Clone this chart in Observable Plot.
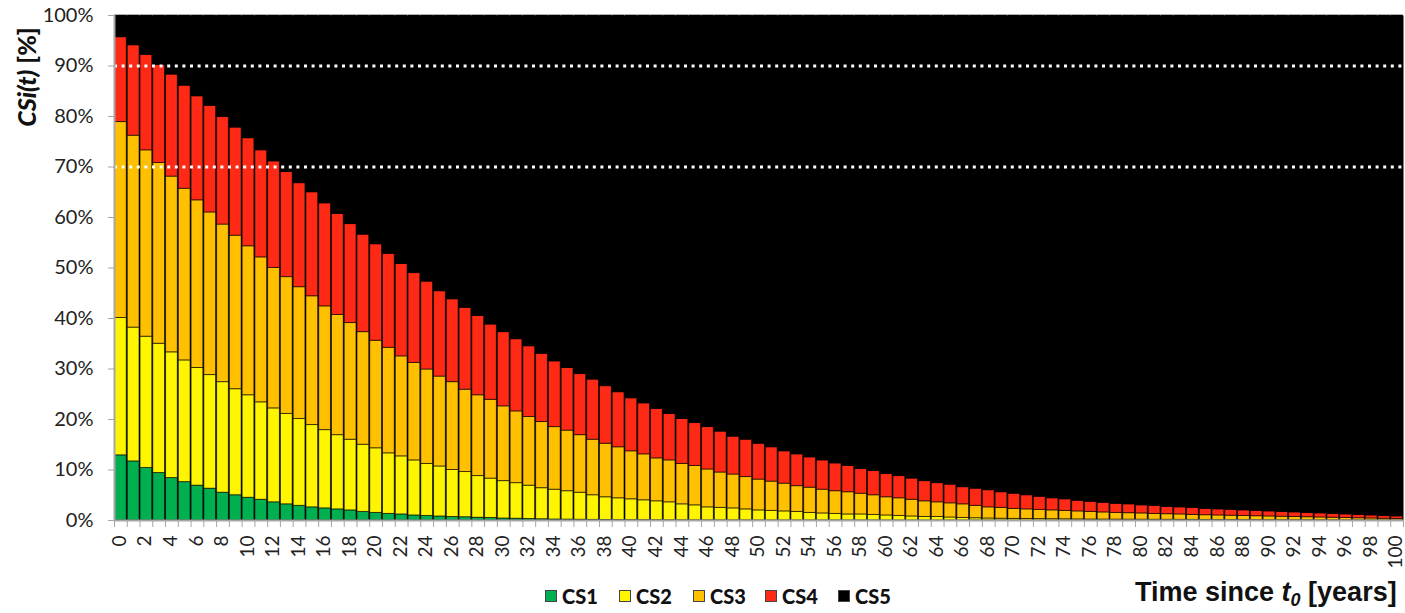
<!DOCTYPE html>
<html>
<head>
<meta charset="utf-8">
<script src="https://cdn.jsdelivr.net/npm/d3@7"></script>
<script src="https://cdn.jsdelivr.net/npm/@observablehq/plot@0.6"></script>
<style>
  html, body { margin: 0; padding: 0; background: #fff; }
  #wrap { position: relative; width: 1405px; height: 613px; overflow: hidden; }
  #chart svg { display: block; }
  .leg { position: absolute; top: 584px; display: flex; align-items: center;
         font-family: Lato, "Liberation Sans", sans-serif; font-weight: 900; font-size: 20px; color: #111; }
  .sw { width: 10px; height: 10px; border: 1.5px solid #444; margin-right: 5px; }
  #xtitle { position: absolute; left: 1135px; top: 577px; font-family: "Liberation Sans", Arial, sans-serif;
            font-weight: bold; font-size: 27px; color: #111; white-space: nowrap; }
  #xtitle sub { font-size: 18px; vertical-align: -5px; line-height: 0; }
</style>
</head>
<body>
<div id="wrap">
  <div id="chart"></div>
  <div id="legend"></div>
  <div id="xtitle">Time since <i>t</i><sub><i>0</i></sub> [years]</div>
</div>
<script>
// Categories
const classes = ["CS1", "CS2", "CS3", "CS4", "CS5"];
const classColors = ["#00b050", "#fff500", "#ffc000", "#ff2a16", "#000000"];
const years = d3.range(0, 101);
const yTicks = [0, 10, 20, 30, 40, 50, 60, 70, 80, 90, 100];
const xTickLabels = d3.range(0, 101, 2);
const thresholds = [70, 90];

// Cumulative upper boundary (%) of each condition state, per year
const cs1Top = [
  12.9,11.7,10.4,9.4,8.4,7.6,6.9,6.3,5.5,5.0,
  4.5,4.1,3.6,3.2,2.9,2.6,2.4,2.2,2.0,1.7,
  1.5,1.3,1.2,1.0,0.9,0.8,0.7,0.65,0.55,0.5,
  0.4,0.35,0.3,0.25,0.2,0.18,0.15,0.12,0.1,0.09,
  0.08,0.07,0.06,0.05,0.05,0.04,0.04,0.03,0.03,0.03,
  0.02,0.02,0.02,0.02,0.02,0.02,0.02,0.02,0.02,0.02,
  0.01,0.01,0.01,0.01,0.01,0.01,0.01,0.01,0.01,0.01,
  0,0,0,0,0,0,0,0,0,0,
  0,0,0,0,0,0,0,0,0,0,
  0,0,0,0,0,0,0,0,0,0,0
];
const cs2Top = [
  40.1,38.2,36.4,35.0,33.3,31.7,30.2,28.8,27.4,26.0,
  24.8,23.4,22.2,21.1,20.1,18.9,17.9,16.9,16.0,15.0,
  14.3,13.3,12.7,11.9,11.2,10.7,10.0,9.6,8.8,8.3,
  7.8,7.4,6.9,6.4,6.1,5.8,5.5,5.0,4.6,4.4,
  4.2,4.0,3.8,3.6,3.2,3.0,2.6,2.5,2.4,2.2,
  2.0,1.9,1.8,1.7,1.5,1.4,1.3,1.2,1.2,1.1,
  1.0,0.9,0.8,0.7,0.7,0.6,0.5,0.45,0.4,0.35,
  0.32,0.3,0.28,0.26,0.24,0.22,0.2,0.19,0.18,0.17,
  0.16,0.15,0.14,0.13,0.12,0.11,0.1,0.09,0.08,0.07,
  0.06,0.06,0.05,0.05,0.04,0.04,0.03,0.03,0.02,0.02,0.02
];
const cs3Top = [
  78.9,76.2,73.3,70.8,68.1,65.7,63.4,61.0,58.6,56.4,
  54.3,52.1,50.0,48.2,46.2,44.4,42.4,40.7,39.1,37.3,
  35.6,34.2,32.5,31.2,29.9,28.5,27.4,25.9,24.8,23.9,
  22.6,21.6,20.5,19.5,18.5,17.8,16.9,16.0,15.2,14.5,
  13.7,13.1,12.3,11.9,11.2,10.8,10.1,9.5,9.1,8.6,
  8.1,7.7,7.3,6.8,6.5,6.1,5.8,5.6,5.3,5.0,
  4.6,4.4,4.1,3.8,3.6,3.4,3.2,2.9,2.6,2.5,
  2.3,2.2,2.1,2.0,1.9,1.8,1.7,1.6,1.5,1.45,
  1.4,1.3,1.25,1.2,1.1,1.05,1.0,0.95,0.9,0.85,
  0.8,0.75,0.7,0.65,0.6,0.55,0.5,0.45,0.4,0.35,0.3
];
const cs4Top = [
  95.7,94.1,92.2,90.2,88.3,86.1,84.0,82.1,79.9,77.8,
  75.7,73.3,71.1,69.0,66.8,65.0,62.8,60.7,58.7,56.6,
  54.7,52.8,50.8,49.0,47.3,45.4,43.8,42.1,40.5,38.8,
  37.3,35.9,34.5,33.0,31.5,30.2,29.0,27.9,26.6,25.4,
  24.2,23.2,22.1,21.1,20.1,19.3,18.5,17.6,16.6,16.0,
  15.2,14.5,13.7,13.1,12.5,11.9,11.3,10.8,10.2,9.8,
  9.2,8.8,8.3,7.8,7.4,7.1,6.6,6.3,6.0,5.6,
  5.3,5.0,4.7,4.4,4.2,3.9,3.7,3.5,3.3,3.2,
  3.0,2.9,2.7,2.6,2.5,2.3,2.2,2.1,2.0,1.9,
  1.8,1.7,1.6,1.5,1.4,1.3,1.2,1.1,1.0,0.9,0.8
];
const cs5Top = years.map(() => 100);

// Build stacked segments from the boundaries
const tops = [cs1Top, cs2Top, cs3Top, cs4Top, cs5Top];
const segments = [];
years.forEach((yr, i) => {
  let lo = 0;
  tops.forEach((arr, k) => {
    const hi = arr[i];
    segments.push({ year: yr, cls: classes[k], y1: lo, y2: hi });
    lo = hi;
  });
});
const bounds = years.concat([years.length]).map(y => y - 0.5);

const plot = Plot.plot({
  width: 1405,
  height: 575,
  marginLeft: 114,
  marginRight: 2,
  marginTop: 15,
  marginBottom: 55,
  style: { fontFamily: "Lato, 'Liberation Sans', sans-serif", fontSize: "20px", color: "#222", background: "#fff" },
  x: { type: "linear", domain: [-0.5, 100.5], axis: null },
  y: { domain: [0, 100], axis: null },
  color: { domain: classes, range: classColors },
  marks: [
    Plot.frame({ fill: "#000", stroke: null }),
    Plot.rect(segments, {
      x1: d => d.year - 0.5, x2: d => d.year + 0.5,
      y1: "y1", y2: "y2", fill: "cls",
      insetLeft: 0.5, insetRight: 0.5,
      stroke: "#000", strokeOpacity: 0.6, strokeWidth: 1
    }),
    Plot.ruleY(thresholds, { stroke: "#fff", strokeWidth: 3, strokeDasharray: "3,4.6" }),
    Plot.ruleX([-0.5], { stroke: "#a6a6a6", strokeWidth: 2 }),
    Plot.ruleY([0], { stroke: "#a6a6a6", strokeWidth: 2 }),
    Plot.axisY({ ticks: yTicks, tickSize: 6, tickPadding: 15, tickFormat: d => d + "%",
                 stroke: "#a6a6a6", fontSize: 20, label: null }),
    Plot.axisX({ ticks: bounds, tickSize: 7, tickFormat: () => "", stroke: "#a6a6a6", label: null }),
    Plot.axisX({ ticks: xTickLabels, tickSize: 0, tickPadding: 15, tickRotate: -90,
                 fontSize: 19, dx: -1, label: null })
  ]
});
document.getElementById("chart").appendChild(plot);

// Y axis title with italic part
const svg = d3.select(plot);
const t = svg.append("text")
  .attr("transform", "translate(36,77) rotate(-90)")
  .attr("text-anchor", "middle")
  .attr("font-family", "Lato, 'Liberation Sans', sans-serif")
  .attr("font-weight", 900)
  .attr("font-size", 25)
  .attr("fill", "#111");
t.append("tspan").attr("font-style", "italic").text("CSi(t)");
t.append("tspan").text(" [%]");

// Legend
const legendLeft = [545, 619, 693, 765, 838];
const leg = d3.select("#legend");
classes.forEach((c, k) => {
  const item = leg.append("div").attr("class", "leg").style("left", legendLeft[k] + "px");
  item.append("div").attr("class", "sw").style("background", classColors[k]);
  item.append("span").text(c);
});
</script>
</body>
</html>
